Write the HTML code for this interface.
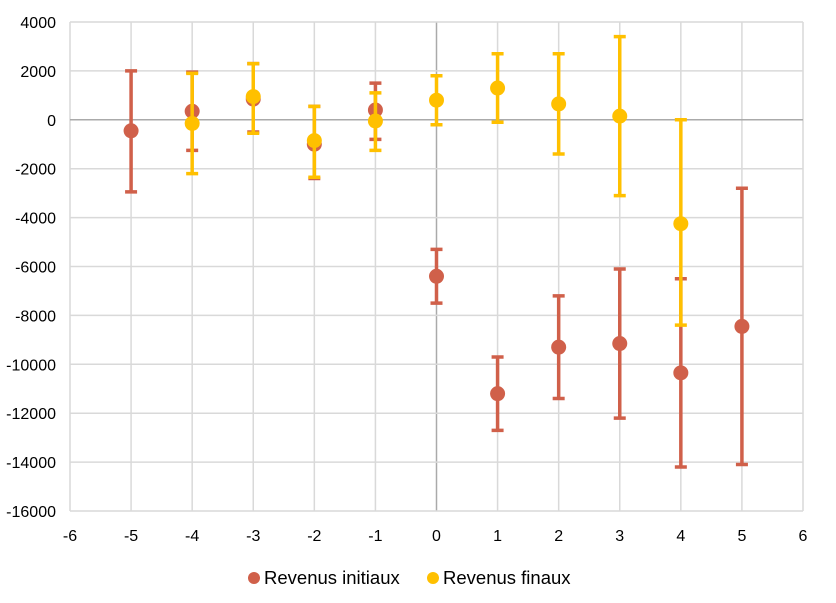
<!DOCTYPE html>
<html><head><meta charset="utf-8"><style>
body{margin:0;background:#fff;width:836px;height:598px;overflow:hidden}
text{font-family:"Liberation Sans",Arial,sans-serif;font-size:16px;fill:#000}
.lg{font-size:18.5px}
</style></head><body>
<svg id="chart" width="836" height="598">
<g id="grid"></g>
<g id="axes"></g>
<g id="marks"></g>
<g>
<circle cx="254" cy="578" r="6" fill="#D0604A"/>
<text class="lg" x="264" y="584">Revenus initiaux</text>
<circle cx="433" cy="578" r="6" fill="#FFC000"/>
<text class="lg" x="443" y="584">Revenus finaux</text>
</g>
</svg>
<script>
const xTicks=[-6,-5,-4,-3,-2,-1,0,1,2,3,4,5,6];
const yTicks=[4000,2000,0,-2000,-4000,-6000,-8000,-10000,-12000,-14000,-16000];
const xInit=[-5,-4,-3,-2,-1,0,1,2,3,4,5];
const yInit=[-450,350,850,-1000,400,-6400,-11200,-9300,-9150,-10350,-8450];
const loInit=[-2950,-1250,-500,-2400,-800,-7500,-12700,-11400,-12200,-14200,-14100];
const hiInit=[2000,1950,2300,550,1500,-5300,-9700,-7200,-6100,-6500,-2800];
const xFin=[-4,-3,-2,-1,0,1,2,3,4];
const yFin=[-150,950,-850,-50,800,1300,650,150,-4250];
const loFin=[-2200,-550,-2350,-1250,-200,-100,-1400,-3100,-8400];
const hiFin=[1900,2300,550,1100,1800,2700,2700,3400,0];
const NS='http://www.w3.org/2000/svg';
const X=v=>70+(v+6)*(733/12);
const Y=v=>22+(4000-v)*(489/20000);
function mk(p,t,a){const e=document.createElementNS(NS,t);for(const k in a)e.setAttribute(k,a[k]);p.appendChild(e);return e;}
const g=document.getElementById('grid'),ax=document.getElementById('axes'),m=document.getElementById('marks');
xTicks.forEach(t=>{const l=mk(g,'line',{x1:X(t),x2:X(t),y1:Y(4000),y2:Y(-16000),stroke:t===0?'#aaa':'#d9d9d9','stroke-width':1.5});


const tx=mk(ax,'text',{x:X(t),y:541,'text-anchor':'middle'});tx.textContent=t;

});
yTicks.forEach(t=>{const l=mk(g,'line',{x1:X(-6),x2:X(6),y1:Y(t),y2:Y(t),stroke:t===0?'#aaa':'#d9d9d9','stroke-width':1.5});


const tx=mk(ax,'text',{x:56,y:Y(t)+6,'text-anchor':'end'});tx.textContent=t;

});
function series(xs,ys,lo,hi,col,name){
xs.forEach((x,i)=>{const cx=X(x);
const e=mk(m,'path',{d:`M${cx},${Y(lo[i])}V${Y(hi[i])}M${cx-6},${Y(lo[i])}h12M${cx-6},${Y(hi[i])}h12`,stroke:col,'stroke-width':3.5,fill:'none'});

});
xs.forEach((x,i)=>{const c=mk(m,'circle',{cx:X(x),cy:Y(ys[i]),r:7.5,fill:col});

});}
series(xInit,yInit,loInit,hiInit,'#D0604A','initiaux');
series(xFin,yFin,loFin,hiFin,'#FFC000','finaux');
</script>
</body></html>
